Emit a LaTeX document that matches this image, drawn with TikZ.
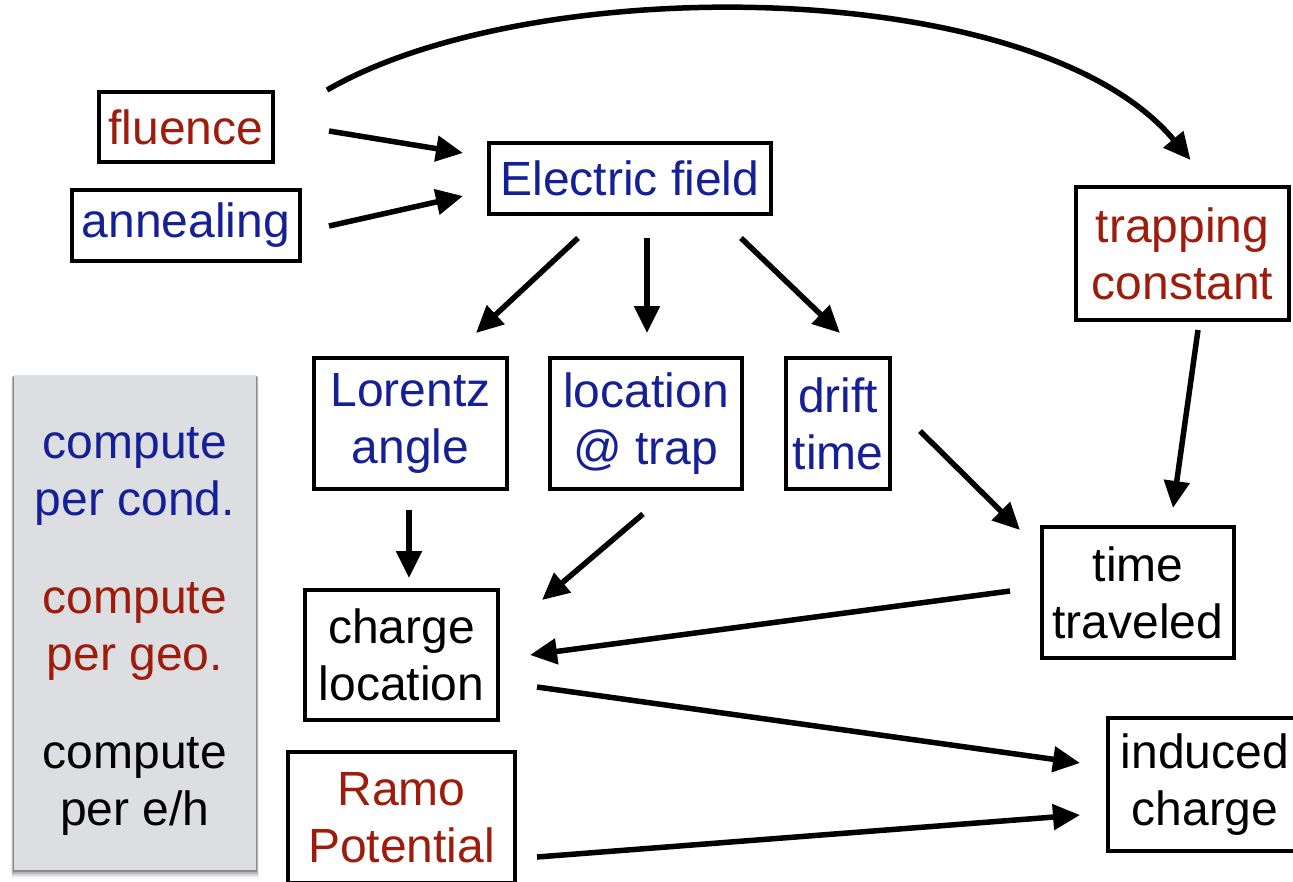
\documentclass[tikz,border=0pt]{standalone}
\usepackage{fontspec}
\setmainfont{Liberation Sans}
\usetikzlibrary{arrows.meta,calc}
\definecolor{cblue}{RGB}{22,32,150}
\definecolor{cred}{RGB}{158,28,12}
\definecolor{legendgray}{RGB}{221,222,226}
\begin{document}
\begin{tikzpicture}[x=1pt,y=-1pt,
  box/.style={draw=black,line width=4pt,inner sep=0pt,align=center,
              font=\fontsize{48}{57}\selectfont},
  legtext/.style={inner sep=0pt,align=center,font=\fontsize{48}{57}\selectfont},
  conn/.style={line width=5.5pt,-{Triangle[length=27pt,width=25pt]}},
]
\useasboundingbox (0,0) rectangle (1293,881);
\clip (0,0) rectangle (1293,881);

% legend panel with a soft shadow
\foreach \o/\a in {8/0.06,6/0.10,4/0.16,2/0.24}
  \fill[black,opacity=\a] (14-\o*0.4,375+\o*0.3) rectangle (256+\o*0.4,870+\o);
\fill[legendgray] (14,375) rectangle (256,870);
\node[legtext,text=cblue] (legcond) at (135,476) {compute\\per cond.};
\node[legtext,text=cred] (leggeo) at (135,631) {compute\\per geo.};
\node[legtext,text=black] (legeh) at (135,786) {compute\\per e/h};

% quantities
\node[box,text=cred,minimum width=174pt,minimum height=70pt] (fluence) at (186,127) {fluence};
\node[box,text=cblue,minimum width=228pt,minimum height=71pt] (anneal) at (186,225.5) {annealing};
\node[box,text=cblue,minimum width=282pt,minimum height=71pt] (efield) at (630,178.5) {Electric field};
\node[box,text=cred,minimum width=213pt,minimum height=133pt] (trap) at (1182.5,253.5) {trapping\\constant};
\node[box,text=cblue,minimum width=193pt,minimum height=131pt] (lorentz) at (410.5,423.5) {Lorentz\\angle};
\node[box,text=cblue,minimum width=192pt,minimum height=131pt] (loctrap) at (646,423.5) {location\\@ trap};
\node[box,text=cblue,minimum width=104pt,minimum height=131pt] (drift) at (838,423.5) {drift\\time};
\node[box,text=black,minimum width=192pt,minimum height=131pt] (ttime) at (1138,592.5) {time\\traveled};
\node[box,text=black,minimum width=193pt,minimum height=130pt] (cloc) at (401.5,655) {charge\\location};
\node[box,text=cred,minimum width=227pt,minimum height=131pt] (ramo) at (401.5,817.5) {Ramo\\Potential};
\node[box,text=black,minimum width=194pt,minimum height=133pt] (induced) at (1205,784.5) {induced\\charge};

% dependencies
\draw[conn]
  ($(fluence.north east)+(52,0)$) .. controls ($(fluence.north east)+(260,-120)$)
  and ($(trap.north)+(-146,-210)$) .. ($(trap.north)+(8,-25)$);
\draw[conn] ($(fluence.east)+(54,4)$) -- ($(efield.west)+(-24,-25.5)$);
\draw[conn] ($(anneal.east)+(27,0.5)$) -- ($(efield.west)+(-24,17.5)$);
\draw[conn] ($(efield.south)+(-52,22)$) -- ($(lorentz.north)+(65.5,-23)$);
\draw[conn] ($(efield.south)+(17,22)$) -- ($(loctrap.north)+(1,-23)$);
\draw[conn] ($(efield.south)+(111,22)$) -- ($(drift.north)+(2,-23)$);
\draw[conn] ($(trap.south)+(15.5,8)$) -- ($(ttime.north)+(35,-17)$);
\draw[conn] ($(drift.east)+(28,7.5)$) -- ($(ttime.west)+(-20,-62.5)$);
\draw[conn] ($(lorentz.south)+(-1.5,19)$) -- ($(cloc.north)+(7.5,-10)$);
\draw[conn] ($(loctrap.south)+(-3,23)$) -- ($(cloc.east)+(42,-55)$);
\draw[conn] ($(ttime.west)+(-30,-1.5)$) -- ($(cloc.east)+(30,0)$);
\draw[conn] ($(cloc.east)+(37,32)$) -- ($(induced.west)+(-26,-21.5)$);
\draw[conn] ($(ramo.east)+(20,39.5)$) -- ($(induced.west)+(-26,30.5)$);
\end{tikzpicture}
\end{document}
